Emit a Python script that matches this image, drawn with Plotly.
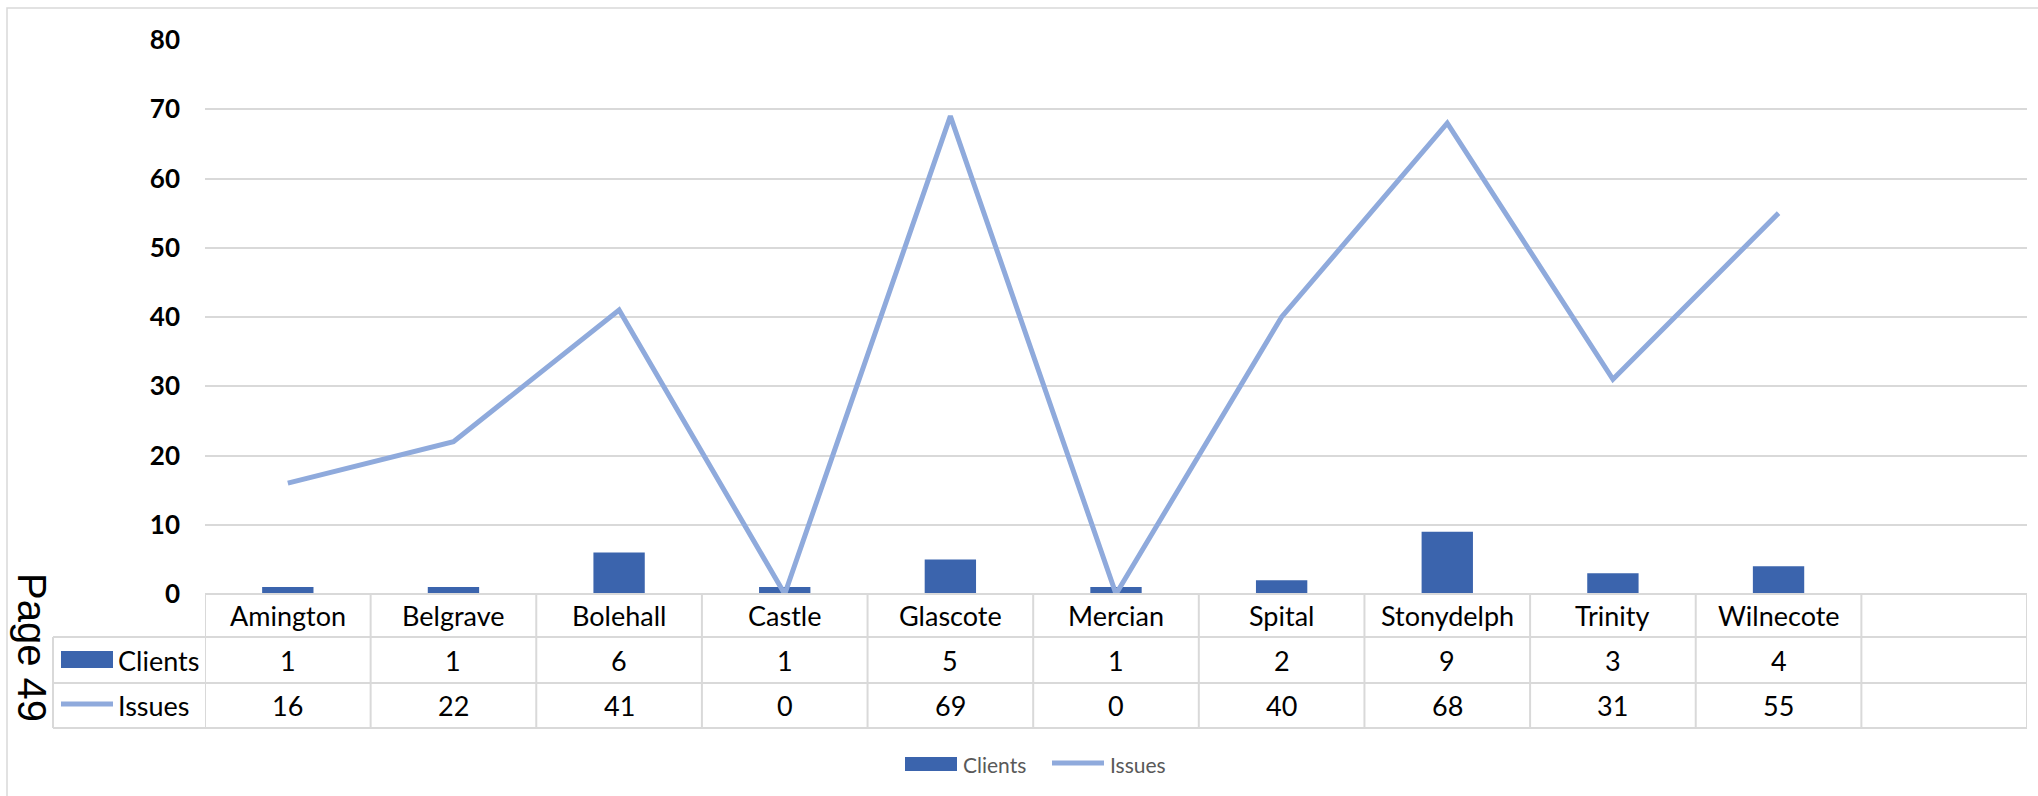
import plotly.graph_objects as go

categories = ["Amington", "Belgrave", "Bolehall", "Castle", "Glascote", "Mercian",
              "Spital", "Stonydelph", "Trinity", "Wilnecote", ""]
clients = [1, 1, 6, 1, 5, 1, 2, 9, 3, 4]
issues = [16, 22, 41, 0, 69, 0, 40, 68, 31, 55]
y_ticks = [0, 10, 20, 30, 40, 50, 60, 70, 80]

W, H = 2038, 796
ML, MR, MT, MB = 205, 11, 40, 202
PW, PH = W - ML - MR, H - MT - MB

def xp(px):
    return (px - ML) / PW

def yp(py):
    return (H - MB - py) / PH

BAR = "#3B64AD"
LINE = "#8FAADC"
GRID = "#D9D9D9"
FONT = "Lato, 'Open Sans', sans-serif"

n_data = len(clients)
xs = list(range(n_data))

fig = go.Figure()
fig.add_trace(go.Bar(x=xs, y=clients, name="Clients", marker_color=BAR,
                     marker_line_width=0, width=0.31, showlegend=False))
fig.add_trace(go.Scatter(x=xs, y=issues, name="Issues", mode="lines",
                         line=dict(color=LINE, width=5), cliponaxis=False,
                         showlegend=False))

shapes = []
ann = []
LW = 2
# chart border
shapes.append(dict(type="rect", xref="paper", yref="paper", x0=xp(7), x1=xp(2070),
                   y0=yp(8), y1=yp(830), line=dict(color=GRID, width=1.5),
                   layer="below"))
# table horizontal lines
rows_y = [594, 637, 683, 728]
for i, ry in enumerate(rows_y):
    x0 = xp(205) if i == 0 else xp(53)
    shapes.append(dict(type="line", xref="paper", yref="paper", x0=x0, x1=1,
                       y0=yp(ry), y1=yp(ry), line=dict(color=GRID, width=LW)))
# table vertical lines
ncat = len(categories)
for i in range(ncat + 1):
    shapes.append(dict(type="line", xref="x", yref="paper", x0=i - 0.5, x1=i - 0.5,
                       y0=yp(594), y1=yp(728), line=dict(color=GRID, width=LW)))
shapes.append(dict(type="line", xref="paper", yref="paper", x0=xp(53), x1=xp(53),
                   y0=yp(637), y1=yp(728), line=dict(color=GRID, width=LW)))

# table contents
TF = dict(family=FONT, size=27, color="#000000")
for i, c in enumerate(categories):
    if c:
        ann.append(dict(x=i, y=yp(615.5), xref="x", yref="paper", text=c,
                        showarrow=False, font=TF, xanchor="center", yanchor="middle"))
for i, v in enumerate(clients):
    ann.append(dict(x=i, y=yp(660), xref="x", yref="paper", text=str(v),
                    showarrow=False, font=TF, xanchor="center", yanchor="middle"))
for i, v in enumerate(issues):
    ann.append(dict(x=i, y=yp(705.5), xref="x", yref="paper", text=str(v),
                    showarrow=False, font=TF, xanchor="center", yanchor="middle"))

# row header keys
shapes.append(dict(type="rect", xref="paper", yref="paper", x0=xp(61), x1=xp(113),
                   y0=yp(668), y1=yp(651), fillcolor=BAR, line=dict(width=0)))
shapes.append(dict(type="line", xref="paper", yref="paper", x0=xp(61), x1=xp(113),
                   y0=yp(704), y1=yp(704), line=dict(color=LINE, width=5)))
ann.append(dict(x=xp(116), y=yp(660), xref="paper", yref="paper", text="Clients",
                showarrow=False, font=TF, xanchor="left", yanchor="middle"))
ann.append(dict(x=xp(116), y=yp(705.5), xref="paper", yref="paper", text="Issues",
                showarrow=False, font=TF, xanchor="left", yanchor="middle"))

# bottom legend
LF = dict(family=FONT, size=21, color="#595959")
shapes.append(dict(type="rect", xref="paper", yref="paper", x0=xp(905), x1=xp(957),
                   y0=yp(771), y1=yp(757), fillcolor=BAR, line=dict(width=0)))
ann.append(dict(x=xp(961), y=yp(764), xref="paper", yref="paper", text="Clients",
                showarrow=False, font=LF, xanchor="left", yanchor="middle"))
shapes.append(dict(type="line", xref="paper", yref="paper", x0=xp(1052), x1=xp(1104),
                   y0=yp(763), y1=yp(763), line=dict(color=LINE, width=5)))
ann.append(dict(x=xp(1108), y=yp(764), xref="paper", yref="paper", text="Issues",
                showarrow=False, font=LF, xanchor="left", yanchor="middle"))

# page number
ann.append(dict(x=xp(32), y=yp(647), xref="paper", yref="paper", text="Page 49",
                showarrow=False, textangle=90,
                font=dict(family="'Liberation Sans', Arial, sans-serif", size=40,
                          color="#000000"),
                xanchor="center", yanchor="middle"))

fig.update_layout(
    width=W, height=H,
    margin=dict(l=ML, r=MR, t=MT, b=MB, pad=0),
    paper_bgcolor="white", plot_bgcolor="white",
    shapes=shapes, annotations=ann,
    showlegend=False,
    xaxis=dict(range=[-0.5, ncat - 0.5], showticklabels=False, showgrid=False,
               zeroline=False, showline=False, fixedrange=True),
    yaxis=dict(range=[0, 80], tickvals=y_ticks, showgrid=True, gridcolor=GRID,
               gridwidth=1.5, zeroline=False, showline=False,
               tickfont=dict(family=FONT, size=26, color="#000000", weight="bold"),
               ticklabelstandoff=24, fixedrange=True),
    bargap=0.69,
)

fig.write_html("out.html")
